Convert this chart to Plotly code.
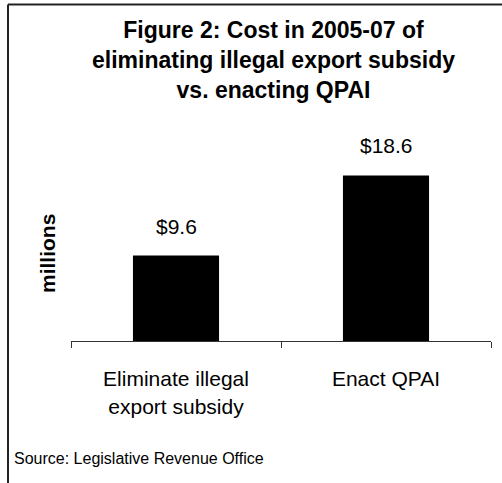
import plotly.graph_objects as go

categories = ["Eliminate illegal<br>export subsidy", "Enact QPAI"]
costs = [9.6, 18.6]
value_labels = ["$9.6", "$18.6"]

W, H = 502, 483
L, R, T, B = 71, 11, 163, 142
PW, PH = W - L - R, H - T - B

def px_x(p):
    return (p - L) / PW

def px_y(p):
    return (H - B - p) / PH

FONT = "Liberation Sans, Arial, sans-serif"

fig = go.Figure()
fig.add_trace(go.Bar(
    x=categories, y=costs, width=0.41,
    marker=dict(color="#000000", line=dict(width=0)),
    hoverinfo="skip",
))

annotations = []
for c, v, t in zip(categories, costs, value_labels):
    annotations.append(dict(x=c, y=v, xref="x", yref="y", text=t, showarrow=False,
                            yanchor="bottom", yshift=16,
                            font=dict(family=FONT, size=21, color="#000")))

annotations.append(dict(
    x=px_x(273), y=px_y(59.5), xref="paper", yref="paper",
    text="<b>Figure 2: Cost in 2005-07 of<br>eliminating illegal export subsidy<br>vs. enacting QPAI</b>",
    showarrow=False, xanchor="center", yanchor="middle", align="center",
    font=dict(family=FONT, size=23, color="#000")))

annotations.append(dict(
    x=px_x(47), y=px_y(254), xref="paper", yref="paper",
    text="<b>millions</b>", textangle=-90, showarrow=False,
    xanchor="center", yanchor="middle",
    font=dict(family=FONT, size=21, color="#000")))

annotations.append(dict(
    x=px_x(12), y=px_y(458), xref="paper", yref="paper",
    text="Source: Legislative Revenue Office", showarrow=False,
    xanchor="left", yanchor="middle",
    font=dict(family=FONT, size=16, color="#000")))

shapes = [
    dict(type="line", xref="paper", yref="paper", x0=px_x(8), x1=px_x(520),
         y0=px_y(4.5), y1=px_y(4.5), line=dict(color="#222", width=2)),
    dict(type="line", xref="paper", yref="paper", x0=px_x(8), x1=px_x(8),
         y0=px_y(4.5), y1=px_y(520), line=dict(color="#222", width=2)),
]

fig.update_layout(
    width=W, height=H,
    margin=dict(l=L, r=R, t=T, b=B, pad=0),
    paper_bgcolor="white", plot_bgcolor="white",
    showlegend=False,
    annotations=annotations,
    shapes=shapes,
    bargap=0.59,
)
fig.update_xaxes(
    type="category", range=[-0.5, 1.5],
    showline=True, linecolor="#333", linewidth=1,
    ticks="outside", tickson="boundaries", ticklen=6, tickcolor="#333", tickwidth=1,
    showgrid=False, ticklabelstandoff=19,
    tickfont=dict(family=FONT, size=21, color="#000"),
)
fig.update_yaxes(range=[0, 20], visible=False, showgrid=False, zeroline=False)

fig.write_html("out.html")
